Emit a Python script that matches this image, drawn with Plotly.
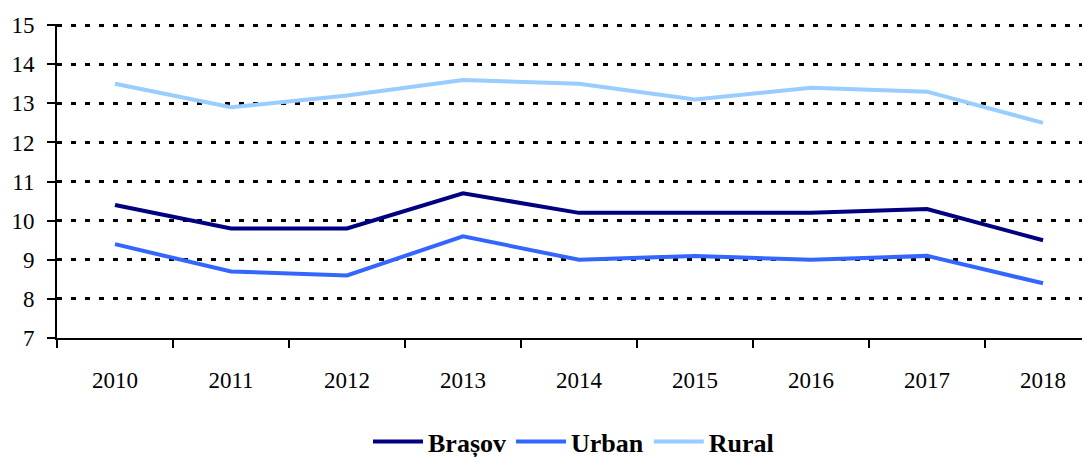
import plotly.graph_objects as go

years = ["2010", "2011", "2012", "2013", "2014", "2015", "2016", "2017", "2018"]
brasov = [10.4, 9.8, 9.8, 10.7, 10.2, 10.2, 10.2, 10.3, 9.5]
urban = [9.4, 8.7, 8.6, 9.6, 9.0, 9.1, 9.0, 9.1, 8.4]
rural = [13.5, 12.9, 13.2, 13.6, 13.5, 13.1, 13.4, 13.3, 12.5]

series = [
    ("Brașov", brasov, "#000080"),
    ("Urban", urban, "#3366FF"),
    ("Rural", rural, "#99CCFF"),
]

fig = go.Figure()
for name, vals, color in series:
    fig.add_trace(go.Scatter(x=years, y=vals, name=name, mode="lines",
                             line=dict(color=color, width=4)))

# page body keeps its 8px margin, so the figure is sized to fill the rest
font = "Liberation Serif, Times New Roman, serif"
fig.update_layout(
    width=1082, height=449,
    margin=dict(l=49, r=0, t=16, b=119, autoexpand=False),
    paper_bgcolor="white", plot_bgcolor="white",
    font=dict(family=font, size=23, color="black"),
    legend=dict(orientation="h", x=0.5, xanchor="center", y=-0.33, yanchor="middle",
                itemwidth=50, tracegroupgap=0, borderwidth=0,
                font=dict(family=font, size=26, color="black", weight="bold")),
)
fig.update_xaxes(
    type="category", range=[-0.5, 8.405], automargin=False,
    tickfont=dict(size=23),
    showline=True, linecolor="black", linewidth=2,
    ticks="outside", ticklen=8, tickwidth=2, tickcolor="black",
    tickson="boundaries", showgrid=False, ticklabelstandoff=20,
)
fig.update_yaxes(
    range=[7, 15.03], dtick=1, automargin=False,
    tickfont=dict(size=23),
    showline=True, linecolor="black", linewidth=2,
    ticks="outside", ticklen=8, tickwidth=2, tickcolor="black",
    showgrid=True, gridcolor="black", gridwidth=3, griddash="5px,9px",
    zeroline=False, ticklabelstandoff=8,
)
fig.write_html("out.html")
